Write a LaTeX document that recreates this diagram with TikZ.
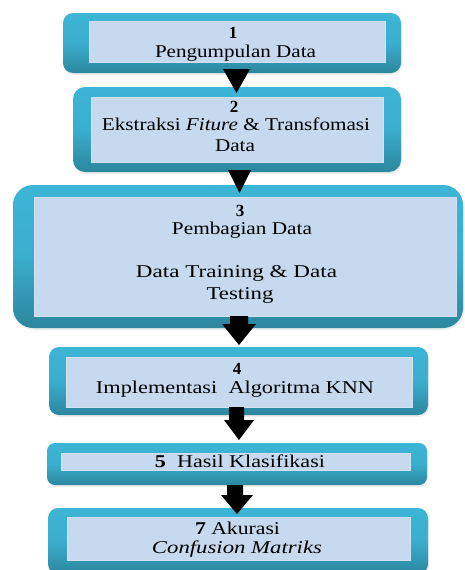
\documentclass[tikz,border=0pt]{standalone}
\usepackage{fontspec}
\setmainfont{Liberation Serif}
\usetikzlibrary{shadows}
\definecolor{tealtop}{RGB}{61,181,214}
\definecolor{tealbot}{RGB}{44,134,158}
\definecolor{innerblue}{RGB}{198,217,238}
\newcommand\sw[2]{\resizebox{#1pt}{\height}{#2}}
\tikzset{
  outerbox/.style={rectangle, inner sep=0pt, outer sep=0pt, top color=tealtop, bottom color=tealbot, middle color=tealtop!85!tealbot, draw=none,
    drop shadow={shadow xshift=1pt, shadow yshift=-2pt, opacity=0.15, fill=black!50}},
  innerbox/.style={rectangle, inner sep=0pt, outer sep=0pt, fill=innerblue, draw=innerblue!80!white, line width=0.6pt},
  lbl/.style={anchor=base, inner sep=0pt, font=\fontsize{18}{21}\selectfont},
  num/.style={anchor=base, inner sep=0pt, font=\fontsize{17}{20}\selectfont\bfseries},
  arr/.style={fill=black, draw=none}
}
\begin{document}
\begin{tikzpicture}[x=1pt,y=-1pt]
\useasboundingbox (0,0) rectangle (464,570);
\clip (0,0) rectangle (464,570);
% boxes
\node[outerbox, rounded corners=10pt, minimum width=338pt, minimum height=60pt] (b1) at (232,43) {};
\node[innerbox, minimum width=296pt, minimum height=41pt] (i1) at (237,41.5) {};
\node[outerbox, rounded corners=12pt, minimum width=328pt, minimum height=85pt] (b2) at (237,129.5) {};
\node[innerbox, minimum width=292pt, minimum height=65pt] (i2) at (237,129.5) {};
\node[outerbox, rounded corners=20pt, minimum width=450pt, minimum height=143pt] (b3) at (238,256.5) {};
\node[innerbox, minimum width=422pt, minimum height=119pt] (i3) at (245,256.5) {};
\node[outerbox, rounded corners=10pt, minimum width=379pt, minimum height=68pt] (b4) at (238.5,381) {};
\node[innerbox, minimum width=346pt, minimum height=50pt] (i4) at (239,382) {};
\node[outerbox, rounded corners=8pt, minimum width=380pt, minimum height=42pt] (b5) at (237,464) {};
\node[innerbox, minimum width=349pt, minimum height=17pt] (i5) at (235.5,461.5) {};
\node[outerbox, rounded corners=10pt, minimum width=380pt, minimum height=66pt] (b6) at (238,541) {};
\node[innerbox, minimum width=343pt, minimum height=43pt] (i6) at (238.5,538.5) {};
% arrows
\fill[arr] (223,69) -- (250,69) -- (236.5,93) -- cycle;
\fill[arr] (228,170) -- (251,170) -- (239.5,193) -- cycle;
\fill[arr] (230,316) -- (248,316) -- (248,324) -- (256,324) -- (239,345) -- (222,324) -- (230,324) -- cycle;
\fill[arr] (229,407) -- (244,407) -- (244,420) -- (254,420) -- (239,440) -- (224,420) -- (229,420) -- cycle;
\fill[arr] (227,485) -- (243,485) -- (243,495) -- (253,495) -- (237,514) -- (221,495) -- (227,495) -- cycle;
% texts
\node[num] (t1a) at (233,38) {1};
\node[lbl] (t1b) at (235.5,57) {\sw{161}{Pengumpulan Data}};
\node[num] (t2a) at (234,112) {2};
\node[lbl] (t2b) at (236,130) {\sw{268}{Ekstraksi \textit{Fiture} \& Transfomasi}};
\node[lbl] (t2c) at (235,151) {\sw{40}{Data}};
\node[num] (t3a) at (240,216) {3};
\node[lbl] (t3b) at (242,234) {\sw{140}{Pembagian Data}};
\node[lbl] (t3c) at (236.5,277) {\sw{201}{Data Training \& Data}};
\node[lbl] (t3d) at (240,299) {\sw{67}{Testing}};
\node[num] (t4a) at (237,374) {4};
\node[lbl] (t4b) at (235,393) {\sw{278}{Implementasi\ \ Algoritma KNN}};
\node[lbl] (t5) at (240,467) {\sw{170}{\textbf{5}\ \ Hasil Klasifikasi}};
\node[lbl] (t6a) at (237.5,534) {\sw{85}{\textbf{7} Akurasi}};
\node[lbl] (t6b) at (237,553) {\sw{170}{\textit{Confusion Matriks}}};
\end{tikzpicture}
\end{document}
